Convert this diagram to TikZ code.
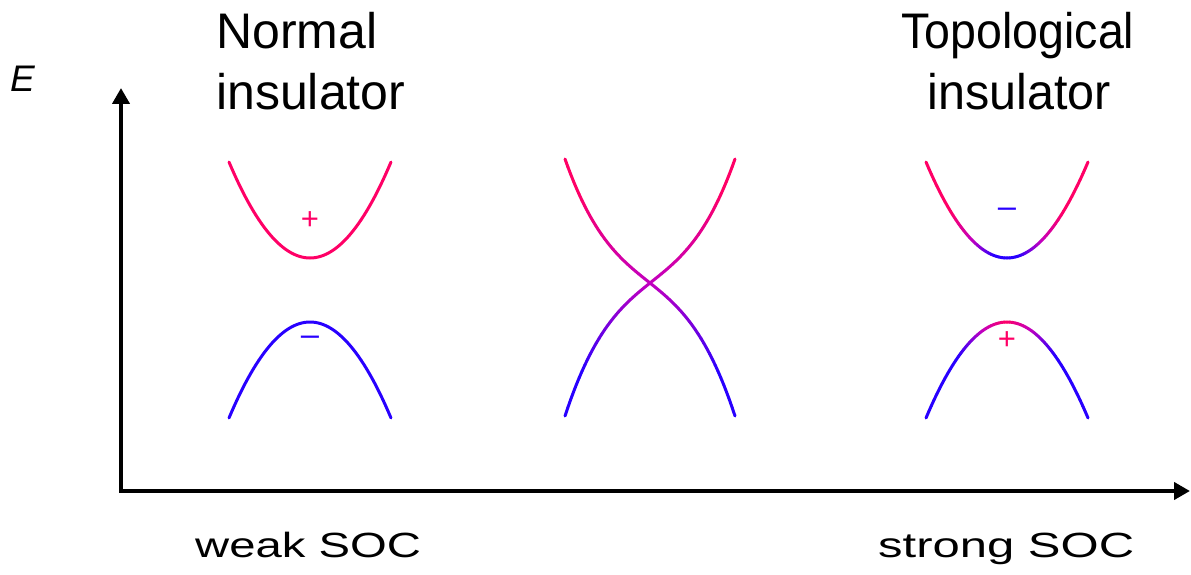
\documentclass[tikz,border=0pt]{standalone}
\usepackage{fontspec}
\setmainfont{Liberation Sans}
\usetikzlibrary{arrows.meta}
\definecolor{bred}{RGB}{255,0,102}
\definecolor{bmag}{RGB}{195,0,190}
\definecolor{bblue}{RGB}{40,0,255}
\begin{document}
\begin{tikzpicture}[x=1pt,y=-1pt,
  band/.style={line width=3pt,line cap=round},
  axisline/.style={line width=4pt,line join=miter,
    {Triangle[width=17pt,length=16pt]}-{Triangle[width=17pt,length=16pt]}},
  sign/.style={inner sep=0pt,font=\fontsize{31}{31}\selectfont},
  title/.style={inner sep=0pt,font=\fontsize{50}{60}\selectfont},
  bottomlabel/.style={inner sep=0pt,font=\fontsize{35}{40}\selectfont}]
\useasboundingbox (0,0) rectangle (1191,575);
% axes
\coordinate (Etip) at (121,88);
\coordinate (O) at (121,491);
\coordinate (ktip) at (1190,491);
\draw[axisline] (Etip) -- (O) -- (ktip);
\node[inner sep=0pt,anchor=base west,font=\fontsize{37}{37}\selectfont\itshape] (E) at (10,92) {E};
% titles
\node[title,anchor=base west] (n1) at (216,49) {Normal};
\node[title,anchor=base west] (n2) at (216,110) {insulator};
\node[title,anchor=base] (t1) at (1018,49) {\scalebox{0.93}[1]{Topological}};
\node[title,anchor=base] (t2) at (1019,110) {\scalebox{0.97}[1]{insulator}};
\node[bottomlabel,anchor=base west] (w) at (195,557) {\scalebox{1.35}[1]{weak SOC}};
\node[bottomlabel,anchor=base west] (s) at (878,557) {\scalebox{1.40}[1]{strong SOC}};
% left panel
\draw[band,bred] plot[domain=-1:1,samples=61] ({310+81*\x},{258-96*\x*\x});
\draw[band,bblue] plot[domain=-1:1,samples=61] ({310+81*\x},{322+96*\x*\x});
\node[sign,text=bred] (p1) at (310,221) {+};
\node[sign,text=bblue] (m1) at (310,342) {\scalebox{1.2}[1]{−}};
% right panel
\foreach \i in {0,...,59}{
  \pgfmathsetmacro\ta{-1+\i/30}
  \pgfmathsetmacro\tb{-1+(\i+1)/30}
  \pgfmathsetmacro\tm{abs((\ta+\tb)/2)}
  \pgfmathsetmacro\fu{min(1,max(0,(\tm-0.15)/0.55))}
  \pgfmathsetmacro\fl{min(1,max(0,1-\tm/0.6))}
  \pgfmathsetmacro\ua{100*max(0,2*\fu-1)}
  \pgfmathsetmacro\ub{100*min(1,2*\fu)}
  \pgfmathsetmacro\la{100*max(0,2*\fl-1)}
  \pgfmathsetmacro\lb{100*min(1,2*\fl)}
  \colorlet{cu}{bmag!\ub!bblue}
  \colorlet{cl}{bmag!\lb!bblue}
  \draw[band,color=bred!\ua!cu] ({1007+81*\ta},{258-96*\ta*\ta}) -- ({1007+81*\tb},{258-96*\tb*\tb});
  \draw[band,color=bred!\la!cl] ({1007+81*\ta},{322+96*\ta*\ta}) -- ({1007+81*\tb},{322+96*\tb*\tb});
}
\node[sign,text=bblue] (m2) at (1007,214) {\scalebox{1.2}[1]{−}};
\node[sign,text=bred] (p2) at (1007,341) {+};
% middle crossing
\foreach \i in {0,...,59}{
  \pgfmathsetmacro\sa{-1+\i/30}
  \pgfmathsetmacro\sb{-1+(\i+1)/30}
  \pgfmathsetmacro\ya{283+68*\sa+60.5*\sa*\sa*\sa+4.5*\sa*\sa}
  \pgfmathsetmacro\yb{283+68*\sb+60.5*\sb*\sb*\sb+4.5*\sb*\sb}
  \pgfmathsetmacro\f{min(1,max(0,0.5+(283-(\ya+\yb)/2)/180))}
  \pgfmathsetmacro\ma{100*max(0,2*\f-1)}
  \pgfmathsetmacro\mb{100*min(1,2*\f)}
  \colorlet{cm}{bmag!\mb!bblue}
  \draw[band,color=bred!\ma!cm] ({650+85*\sa},\ya) -- ({650+85*\sb},\yb);
  \draw[band,color=bred!\ma!cm] ({650-85*\sa},\ya) -- ({650-85*\sb},\yb);
}
\end{tikzpicture}
\end{document}
